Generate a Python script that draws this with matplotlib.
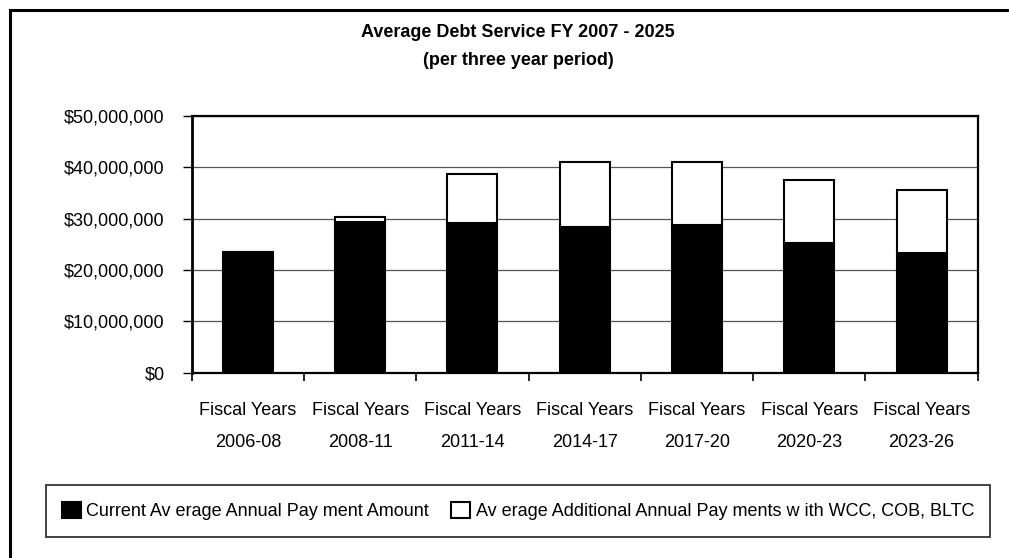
import matplotlib
matplotlib.use('Agg')
import matplotlib.pyplot as plt
from matplotlib.lines import Line2D
from matplotlib.ticker import FuncFormatter

plt.rcParams['font.family'] = ['Liberation Sans', 'DejaVu Sans']

# chart data (dollars)
periods = ['Fiscal Years\n2006-08', 'Fiscal Years\n2008-11', 'Fiscal Years\n2011-14',
           'Fiscal Years\n2014-17', 'Fiscal Years\n2017-20', 'Fiscal Years\n2020-23',
           'Fiscal Years\n2023-26']
current = [23600000, 29400000, 29200000, 28400000, 28800000, 25200000, 23300000]
additional = [0, 900000, 9600000, 12700000, 12300000, 12300000, 12300000]
y_ticks = [0, 10000000, 20000000, 30000000, 40000000, 50000000]

label_current = 'Current Av erage Annual Pay ment Amount'
label_additional = 'Av erage Additional Annual Pay ments w ith WCC, COB, BLTC'

fig = plt.figure(figsize=(10.09, 5.58), dpi=100)
ax = fig.add_axes([0.190, 0.332, 0.779, 0.460])

x = list(range(len(periods)))
ax.bar(x, current, width=0.445, color='black', edgecolor='black', linewidth=1.5,
       label=label_current, zorder=3)
ax.bar(x, additional, width=0.445, bottom=current, color='white', edgecolor='black',
       linewidth=1.5, label=label_additional, zorder=3)

ax.set_xlim(-0.5, len(periods) - 0.5)
ax.set_ylim(0, 50000000)
ax.set_yticks(y_ticks)
ax.yaxis.set_major_formatter(FuncFormatter(lambda v, p: '${:,.0f}'.format(v)))
ax.yaxis.grid(True, color='#555555', linewidth=0.9)
ax.set_axisbelow(True)

# category boundaries get tick marks, centers get the labels
ax.set_xticks([i - 0.5 for i in range(len(periods) + 1)])
ax.set_xticklabels([])
ax.set_xticks(x, minor=True)
ax.set_xticklabels(periods, minor=True, fontsize=13, linespacing=2.15)
ax.tick_params(axis='x', which='major', direction='out', length=6, width=1.2)
ax.tick_params(axis='x', which='minor', length=0, pad=21)
ax.tick_params(axis='y', direction='out', length=6.5, width=1.0, pad=13, labelsize=13)

for side in ['left', 'bottom', 'top', 'right']:
    ax.spines[side].set_linewidth(1.6)
ax.spines['left'].set_linewidth(2.0)

# titles
fig.text(0.5134, 1 - 37 / 558., 'Average Debt Service FY 2007 - 2025', ha='center',
         va='baseline', fontsize=13, fontweight='bold')
fig.text(0.5134, 1 - 65 / 558., '(per three year period)', ha='center',
         va='baseline', fontsize=13, fontweight='bold')

# legend
leg = fig.legend(loc='center', bbox_to_anchor=(0.5134, 0.0842), ncol=2, fontsize=13,
                 frameon=True, fancybox=False, edgecolor='black', handlelength=1.05,
                 handleheight=1.05, handletextpad=0.28, columnspacing=1.25,
                 borderpad=0.92, borderaxespad=0)
leg.get_frame().set_linewidth(1.3)

# outer chart frame (cut off at right and bottom)
fig.add_artist(Line2D([10 / 1009., 10 / 1009.], [0, 1 - 10 / 558.], color='black',
                      linewidth=2.2, transform=fig.transFigure))
fig.add_artist(Line2D([10 / 1009., 1], [1 - 10 / 558., 1 - 10 / 558.], color='black',
                      linewidth=2.2, transform=fig.transFigure))

fig.savefig('out.png', dpi=100)
